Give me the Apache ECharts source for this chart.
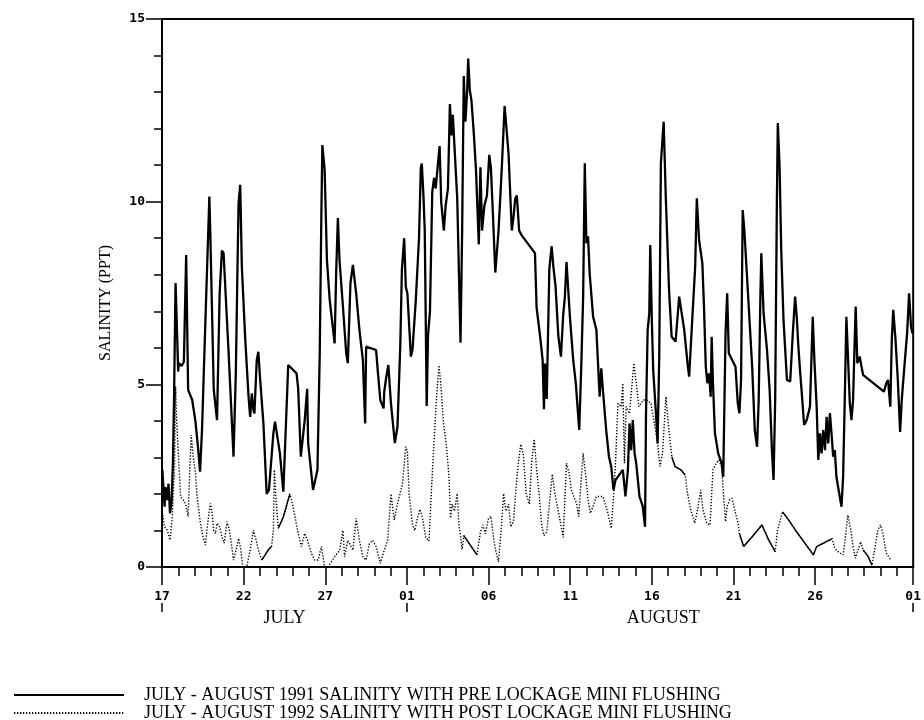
<!DOCTYPE html>
<html>
<head>
<meta charset="utf-8">
<script src="https://cdn.jsdelivr.net/npm/echarts@6/dist/echarts.min.js"></script>
<style>
html,body{margin:0;padding:0;background:#fff;}
#chart{width:924px;height:720px;}
</style>
</head>
<body>
<div id="chart"></div>
<script>
// ---- DATA (days since July 17 ; salinity ppt) ----
const t1991 = [0.02,0.16,0.22,0.3,0.4,0.49,0.58,0.67,0.74,0.77,0.83,0.93,0.99,1.03,1.2,1.34,1.48,1.6,1.85,2.05,2.2,2.33,2.45,2.66,2.9,2.96,3.17,3.37,3.53,3.67,3.77,4.08,4.38,4.52,4.63,4.69,4.79,4.89,5.09,5.3,5.4,5.5,5.6,5.66,5.8,5.9,6.0,6.21,6.41,6.51,6.55,6.82,6.92,7.02,7.22,7.43,7.73,8.24,8.34,8.5,8.74,8.89,8.95,9.25,9.52,9.66,9.76,9.82,9.96,10.1,10.27,10.57,10.67,10.77,10.87,11.08,11.28,11.38,11.54,11.69,11.89,12.09,12.3,12.44,12.5,13.11,13.21,13.37,13.57,13.61,13.72,13.86,14.02,14.26,14.42,14.59,14.69,14.83,14.93,15.03,15.24,15.34,15.54,15.74,15.85,15.91,16.01,16.09,16.21,16.29,16.41,16.55,16.66,16.76,16.86,17.0,17.1,17.26,17.37,17.51,17.63,17.73,17.81,17.91,18.08,18.28,18.38,18.48,18.58,18.69,18.75,18.85,18.95,19.09,19.23,19.4,19.5,19.6,19.74,19.9,20.04,20.14,20.27,20.41,20.61,20.81,20.98,21.08,21.22,21.42,21.53,21.63,21.73,21.87,22.04,22.84,22.94,23.15,23.31,23.39,23.45,23.56,23.72,23.86,23.96,24.1,24.27,24.43,24.57,24.67,24.77,24.98,25.18,25.34,25.55,25.68,25.79,25.89,25.99,26.09,26.19,26.4,26.6,26.7,26.8,26.9,27.0,27.2,27.37,27.51,27.65,27.77,28.22,28.38,28.53,28.63,28.73,28.83,28.94,29.04,29.24,29.44,29.58,29.64,29.74,29.84,29.9,30.0,30.08,30.25,30.35,30.45,30.55,30.72,30.85,31.05,31.21,31.45,31.67,31.98,32.18,32.28,32.48,32.65,32.75,32.89,33.09,33.19,33.3,33.4,33.5,33.6,33.66,33.74,33.86,34.06,34.27,34.37,34.51,34.61,34.71,35.12,35.26,35.36,35.46,35.56,35.66,35.79,35.93,36.14,36.3,36.44,36.54,36.64,36.7,36.84,37.05,37.21,37.35,37.45,37.55,37.65,37.71,37.82,37.92,38.06,38.27,38.47,38.63,38.77,38.87,38.97,39.07,39.18,39.32,39.48,39.68,39.85,39.95,40.09,40.19,40.29,40.39,40.49,40.6,40.7,40.8,40.9,41.0,41.1,41.2,41.3,41.4,41.61,41.71,41.81,41.91,42.0,42.12,42.22,42.32,42.42,42.48,42.58,42.72,42.93,44.21,44.35,44.46,44.6,44.69,44.78,44.92,45.06,45.2,45.3,45.46,45.63,45.75,45.87,45.95];
const s1991 = [2.66,1.65,2.19,1.83,2.28,1.47,1.74,2.84,4.66,5.76,7.77,6.3,5.35,5.58,5.5,5.62,8.54,4.85,4.57,3.98,3.3,2.61,3.75,6.76,10.14,9.09,4.85,4.02,7.49,8.66,8.59,5.85,3.02,5.3,8.4,9.96,10.46,8.22,6.3,4.66,4.11,4.75,4.3,4.2,5.66,5.89,5.2,3.93,2.0,2.02,2.11,3.66,3.98,3.7,3.11,2.06,5.53,5.3,4.88,3.02,4.02,4.88,3.39,2.11,2.66,5.85,9.68,11.55,10.87,8.4,7.31,6.12,8.13,9.55,8.4,7.13,5.85,5.58,7.77,8.27,7.49,6.49,5.67,3.93,6.03,5.94,5.39,4.57,4.34,4.8,5.16,5.53,4.48,3.39,3.84,6.03,8.13,9.0,7.67,7.48,5.76,5.95,7.29,9.02,10.94,11.04,10.17,9.21,4.41,6.33,7.0,10.27,10.65,10.36,10.85,11.52,9.98,9.21,9.89,10.36,12.67,11.81,12.38,11.52,10.08,6.14,9.21,13.44,12.19,13.05,13.92,13.05,12.77,11.9,10.85,8.83,10.94,9.21,9.89,10.17,11.28,10.94,9.6,8.06,9.21,10.94,12.62,12.67,11.33,9.21,9.6,10.08,10.17,9.21,9.07,8.59,7.1,6.33,5.66,4.32,5.57,4.6,8.16,8.78,8.25,7.68,6.33,5.76,6.91,7.39,8.35,6.85,5.67,5.03,3.75,5.58,7.4,11.05,8.86,9.05,8.03,6.85,6.49,5.58,4.66,5.44,4.85,3.75,3.02,2.75,2.11,2.38,2.66,1.93,2.66,3.93,3.2,4.02,3.11,2.84,1.93,1.66,1.1,4.2,6.49,6.94,8.81,6.67,5.39,4.2,3.38,5.76,11.05,12.19,10.14,7.58,6.3,6.17,7.4,6.49,5.58,5.21,6.85,8.22,10.09,8.95,8.31,7.13,5.48,5.03,5.3,4.66,6.3,5.03,3.66,3.11,2.84,2.47,6.4,7.49,5.85,5.48,4.48,4.21,5.12,9.77,9.23,8.22,7.13,5.48,3.75,3.29,4.57,7.31,8.59,6.94,5.94,4.85,3.2,2.38,4.57,9.86,12.15,10.96,8.68,6.76,5.12,5.08,6.4,7.4,6.85,6.03,5.39,4.75,3.89,4.02,4.39,6.85,5.67,4.39,2.93,3.66,3.11,3.75,3.2,4.11,3.38,4.21,3.66,3.02,3.2,2.47,2.2,1.65,2.47,4.57,6.85,5.85,4.48,4.02,4.57,6.21,7.13,5.58,5.76,5.26,4.8,5.03,5.12,4.39,6.21,7.04,6.21,5.12,3.7,4.57,5.48,6.4,7.49,6.58,6.4];

const t1992 = [0.02,0.15,0.32,0.49,0.63,0.77,0.83,0.89,1.03,1.14,1.3,1.44,1.6,1.7,1.79,1.91,2.05,2.15,2.35,2.51,2.66,2.8,2.96,3.06,3.16,3.27,3.37,3.53,3.67,3.81,3.98,4.08,4.22,4.38,4.54,4.69,4.83,4.95,5.19,5.4,5.6,5.76,5.9,6.11,6.51,6.71,6.82,6.88,6.96,7.12,7.43,7.83,8.03,8.34,8.54,8.74,8.91,9.15,9.35,9.56,9.76,9.96,10.16,10.57,10.88,11.08,11.18,11.38,11.69,11.89,12.09,12.3,12.5,12.7,12.9,13.11,13.37,13.61,13.82,14.02,14.22,14.42,14.73,14.93,15.03,15.13,15.34,15.48,15.64,15.8,15.95,16.15,16.35,16.49,16.66,16.82,16.96,17.06,17.22,17.43,17.57,17.67,17.77,17.91,18.08,18.18,18.28,18.38,18.48,19.29,19.5,19.66,19.8,20.0,20.14,20.31,20.47,20.61,20.76,20.92,21.06,21.22,21.36,21.52,21.69,21.83,21.97,22.13,22.3,22.5,22.64,22.79,22.94,23.11,23.25,23.39,23.56,23.72,23.9,24.06,24.27,24.43,24.57,24.77,24.93,25.07,25.22,25.38,25.52,25.68,25.79,25.93,26.09,26.23,26.4,26.6,26.8,27.0,27.31,27.51,27.65,27.77,27.92,28.12,28.22,28.32,28.42,28.63,28.79,28.89,29.04,29.2,29.34,29.48,29.68,29.94,30.15,30.35,30.49,30.65,30.86,31.02,31.22,31.42,31.77,32.04,32.18,32.38,32.63,32.79,32.99,33.13,33.36,33.56,33.74,33.94,34.1,34.27,34.41,34.51,34.61,34.77,34.91,35.12,35.28,35.36,35.62,36.14,36.74,37.15,37.55,37.7,37.86,38.0,38.37,38.77,39.89,40.09,40.9,41.04,41.2,41.4,41.71,41.85,42.0,42.18,42.32,42.46,42.62,42.79,42.93,43.24,43.48,43.64,43.84,44.0,44.14,44.35,44.61];
const s1992 = [1.5,1.1,1.01,0.74,1.38,2.84,4.94,4.11,2.84,1.92,1.83,1.74,1.38,2.66,3.61,3.02,2.57,1.92,1.2,0.83,0.6,1.2,1.74,1.51,1.01,0.92,1.2,1.1,0.83,0.65,1.24,1.1,0.74,0.19,0.47,0.78,0.47,0.0,0.0,0.47,1.01,0.74,0.47,0.19,0.47,0.56,1.01,2.66,2.0,1.06,1.37,2.0,1.64,0.92,0.56,0.92,0.73,0.37,0.19,0.19,0.56,0.0,0.0,0.28,0.46,1.0,0.28,0.73,0.46,1.33,0.73,0.28,0.19,0.64,0.73,0.56,0.1,0.46,0.73,2.0,1.28,1.73,2.28,3.29,3.16,2.01,1.15,1.0,1.34,1.58,1.34,0.81,0.71,2.01,3.45,4.7,5.52,5.08,4.03,3.26,2.49,1.34,1.72,1.53,2.01,1.15,0.86,0.48,0.86,0.33,0.96,1.15,0.91,1.34,1.39,0.76,0.38,0.14,0.96,2.01,1.53,1.72,1.1,1.24,2.2,2.88,3.36,3.07,2.01,1.72,2.88,3.5,2.68,1.92,1.15,0.86,0.96,1.72,2.54,2.01,1.53,1.15,0.81,2.84,2.57,2.11,1.93,1.75,1.38,2.47,3.11,2.57,1.84,1.47,1.66,1.93,1.93,1.93,1.47,1.06,1.93,2.84,4.48,4.39,5.03,2.84,4.39,4.2,5.03,5.58,5.03,4.39,4.48,4.57,4.57,4.48,3.93,3.38,2.75,3.11,4.66,3.84,3.02,2.75,2.66,2.52,2.02,1.56,1.2,1.56,2.11,1.56,1.2,1.15,2.66,2.84,2.93,2.75,1.84,1.24,1.66,1.84,1.88,1.47,1.2,0.92,0.56,0.83,1.15,0.74,0.42,1.02,1.29,1.51,1.29,1.02,0.33,0.56,0.74,0.78,0.51,0.42,0.33,0.83,1.42,1.02,0.56,0.24,0.47,0.69,0.47,0.29,0.05,0.47,1.02,1.15,0.92,0.38,0.2];

// day ranges where the 1992 trace is printed as a continuous (undotted) stroke
const solidRanges1992 = [[6.11,6.71],[7.12,7.83],[18.48,19.29],[31.22,32.04],[35.36,37.55],[38.0,41.04],[42.93,43.48]];

const xTickDays = [0,5,10,15,20,25,30,35,40,46];
const xTickLabels = ['17','22','27','01','06','11','16','21','26','01'];
const monthDays = [7.5,30.7];
const monthLabels = ['JULY','AUGUST'];
const monthBoundaryDays = [0,15,46];
const seriesNames = ['JULY - AUGUST 1991 SALINITY WITH PRE LOCKAGE MINI FLUSHING',
                     'JULY - AUGUST 1992 SALINITY WITH POST LOCKAGE MINI FLUSHING'];

// ---- build ----
const data1991 = t1991.map((t,i)=>[t,s1991[i]]);
const data1992 = t1992.map((t,i)=>[t,s1992[i]]);
const inSolid = t => solidRanges1992.some(r => t >= r[0] - 1e-9 && t <= r[1] + 1e-9);
const data1992Solid = t1992.map((t,i)=> inSolid(t) ? [t,s1992[i]] : [t,null]);
const allDays = [];
for (let d = 0; d <= 46; d++) allDays.push(d);

const serif = 'Liberation Serif';
const mono = 'DejaVu Sans Mono';

const chart = echarts.init(document.getElementById('chart'), null, {renderer:'canvas'});
chart.setOption({
  animation:false,
  backgroundColor:'#ffffff',
  grid:{left:162,right:5,top:19,bottom:153,show:true,borderColor:'#000',borderWidth:2,backgroundColor:'transparent'},
  legend:{
    type:'plain', orient:'vertical', left:13, top:686, height:40, padding:0,
    itemWidth:110, itemHeight:16, itemGap:0,
    data:seriesNames,
    itemStyle:{opacity:0},
    textStyle:{fontFamily:serif,fontSize:18,lineHeight:16,color:'#000',padding:[0,0,0,15]},
    selectedMode:false
  },
  xAxis:[
    {type:'value',min:0,max:46,position:'bottom',
     axisLine:{show:true,lineStyle:{color:'#000',width:2}},
     axisTick:{show:true,customValues:allDays,length:9,lineStyle:{color:'#000',width:1.5}},
     axisLabel:{show:true,customValues:xTickDays,margin:23,fontFamily:mono,fontWeight:'bold',fontSize:13,color:'#000',
       formatter:v=>{const k=xTickDays.indexOf(v);return k>=0?xTickLabels[k]:'';}},
     splitLine:{show:false}},
    {type:'value',min:0,max:46,position:'bottom',gridIndex:0,
     axisLine:{show:false},
     axisTick:{show:true,customValues:xTickDays,length:18,lineStyle:{color:'#000',width:1.5}},
     axisLabel:{show:false},splitLine:{show:false}},
    {type:'value',min:0,max:46,position:'bottom',gridIndex:0,offset:36,
     axisLine:{show:false},
     axisTick:{show:true,customValues:monthBoundaryDays,length:9,lineStyle:{color:'#000',width:1.5}},
     axisLabel:{show:true,customValues:monthDays,margin:6,fontFamily:serif,fontSize:18,color:'#000',
       formatter:v=>{const k=monthDays.indexOf(v);return k>=0?monthLabels[k]:'';}},
     splitLine:{show:false}}
  ],
  yAxis:{type:'value',min:0,max:15,interval:5,
    name:'SALINITY (PPT)',nameLocation:'middle',nameGap:48,nameRotate:90,
    nameTextStyle:{fontFamily:serif,fontSize:16,color:'#000',padding:[0,20,0,0]},
    axisLine:{show:true,lineStyle:{color:'#000',width:2}},
    axisTick:{show:true,length:16,lineStyle:{color:'#000',width:1.5}},
    minorTick:{show:true,splitNumber:5,length:8,lineStyle:{color:'#000',width:1.5}},
    axisLabel:{margin:17,fontFamily:mono,fontWeight:'bold',fontSize:13,color:'#000'},
    splitLine:{show:false}},
  series:[
    {name:seriesNames[0],type:'line',data:data1991,symbol:'none',showSymbol:false,z:3,
     lineStyle:{color:'#000',width:2.3},itemStyle:{color:'#000'}},
    {name:seriesNames[1],type:'line',data:data1992,symbol:'none',showSymbol:false,z:2,
     lineStyle:{color:'#000',width:1.4,type:[1.3,1.7]},itemStyle:{color:'#000'}},
    {name:'1992 continuous',type:'line',data:data1992Solid,symbol:'none',showSymbol:false,z:2,connectNulls:false,
     lineStyle:{color:'#000',width:1.4},itemStyle:{color:'#000'}}
  ]
});
</script>
</body>
</html>
